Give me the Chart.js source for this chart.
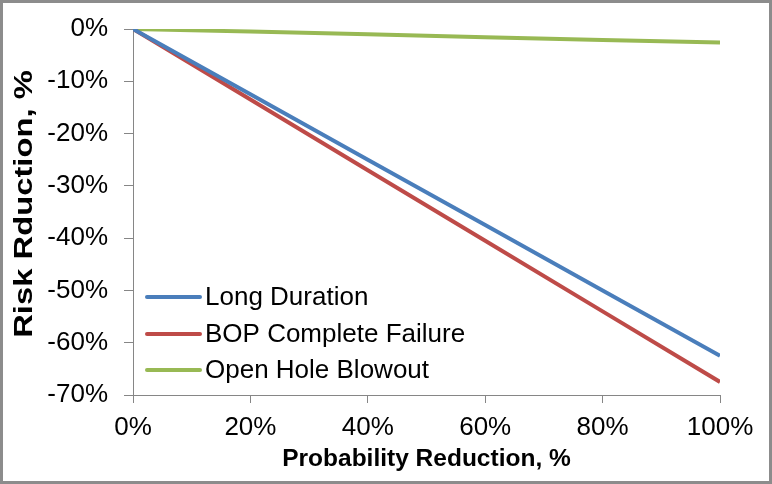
<!DOCTYPE html>
<html>
<head>
<meta charset="utf-8">
<script src="https://cdn.jsdelivr.net/npm/chart.js@4.4.1/dist/chart.umd.min.js"></script>
<style>
  html, body { margin: 0; padding: 0; background: #fff; }
  #frame {
    box-sizing: border-box; width: 772px; height: 484px;
    border: 3px solid #8c8c8c; background: #fff;
  }
  #chart { display: block; }
</style>
</head>
<body>
<div id="frame"><canvas id="chart" width="766" height="478"></canvas></div>
<script>
// probability reduction (x, %) and resulting risk change (y, %)
const probReduction = [0, 20, 40, 60, 80, 100];
const longDuration = [0, -12.5, -25, -37.5, -50, -62.5];
const bopFailure = [0, -13.5, -27, -40.5, -54, -67.5];
const openHoleBlowout = [0, -0.5, -1.0, -1.6, -2.1, -2.6];

const seriesNames = ['Long Duration', 'BOP Complete Failure', 'Open Hole Blowout'];
const seriesColors = ['#4a7ebb', '#be4b48', '#98b954'];
const xTicks = [0, 20, 40, 60, 80, 100];
const yTicks = [0, -10, -20, -30, -40, -50, -60, -70];
const yTitle = 'Risk Rduction, %';

const FONT = 'Liberation Sans, Arial, sans-serif';

const toPoints = ys => probReduction.map((x, i) => ({ x, y: ys[i] }));

// legend drawn inside the plot, lower-left corner
const innerLegend = {
  id: 'innerLegend',
  afterDatasetsDraw(chart) {
    const { ctx, chartArea } = chart;
    const x0 = chartArea.left + 14;
    const rows = [chartArea.bottom - 98, chartArea.bottom - 61, chartArea.bottom - 25];
    ctx.save();
    ctx.font = '26px ' + FONT;
    ctx.textBaseline = 'middle';
    ctx.lineCap = 'round';
    chart.data.datasets.forEach((ds, i) => {
      ctx.strokeStyle = ds.borderColor;
      ctx.lineWidth = 4;
      ctx.beginPath();
      ctx.moveTo(x0, rows[i]);
      ctx.lineTo(x0 + 53, rows[i]);
      ctx.stroke();
      ctx.fillStyle = '#000';
      ctx.fillText(ds.label, x0 + 58, rows[i] + 1);
    });
    ctx.restore();
  }
};

// rotated y title, stretched a little along its length
const yAxisTitle = {
  id: 'yAxisTitle',
  afterDraw(chart) {
    const { ctx } = chart;
    ctx.save();
    ctx.translate(22, 201);
    ctx.rotate(-Math.PI / 2);
    ctx.scale(1.26, 1);
    ctx.font = 'bold 26px ' + FONT;
    ctx.fillStyle = '#000';
    ctx.textAlign = 'center';
    ctx.textBaseline = 'middle';
    ctx.fillText(yTitle, 0, 0);
    ctx.restore();
  }
};

new Chart(document.getElementById('chart'), {
  type: 'line',
  data: {
    datasets: [longDuration, bopFailure, openHoleBlowout].map((ys, i) => ({
      label: seriesNames[i],
      data: toPoints(ys),
      borderColor: seriesColors[i],
      backgroundColor: seriesColors[i],
      borderWidth: 4,
      pointRadius: 0,
      tension: 0,
      fill: false,
    }))
  },
  options: {
    responsive: false,
    animation: false,
    layout: { padding: { top: 26, right: 49, left: 0, bottom: 0 } },
    plugins: { legend: { display: false }, tooltip: { enabled: false } },
    scales: {
      x: {
        type: 'linear', min: 0, max: 100,
        afterBuildTicks: axis => { axis.ticks = xTicks.map(v => ({ value: v })); },
        afterFit: axis => {
          axis.height = 86;
          axis.paddingLeft = 0;
          axis.paddingRight = 0;
        },
        ticks: {
          color: '#000', padding: 9, maxRotation: 0,
          font: { family: FONT, size: 26 },
          callback: v => v + '%'
        },
        grid: { drawOnChartArea: false, tickLength: 8, color: '#868686' },
        border: { color: '#868686', width: 1 },
        title: {
          display: true, text: 'Probability Reduction, %', color: '#000',
          font: { family: FONT, size: 24.5, weight: 'bold' },
          padding: { top: 0, bottom: 7 }
        }
      },
      y: {
        type: 'linear', min: -70, max: 0,
        afterBuildTicks: axis => { axis.ticks = yTicks.map(v => ({ value: v })); },
        afterFit: axis => {
          axis.width = 130;
          axis.paddingTop = 0;
          axis.paddingBottom = 0;
        },
        ticks: {
          color: '#000', padding: 16,
          font: { family: FONT, size: 26 },
          callback: v => v + '%'
        },
        grid: { drawOnChartArea: false, tickLength: 9, color: '#868686' },
        border: { color: '#868686', width: 1 }
      }
    }
  },
  plugins: [innerLegend, yAxisTitle]
});
</script>
</body>
</html>
